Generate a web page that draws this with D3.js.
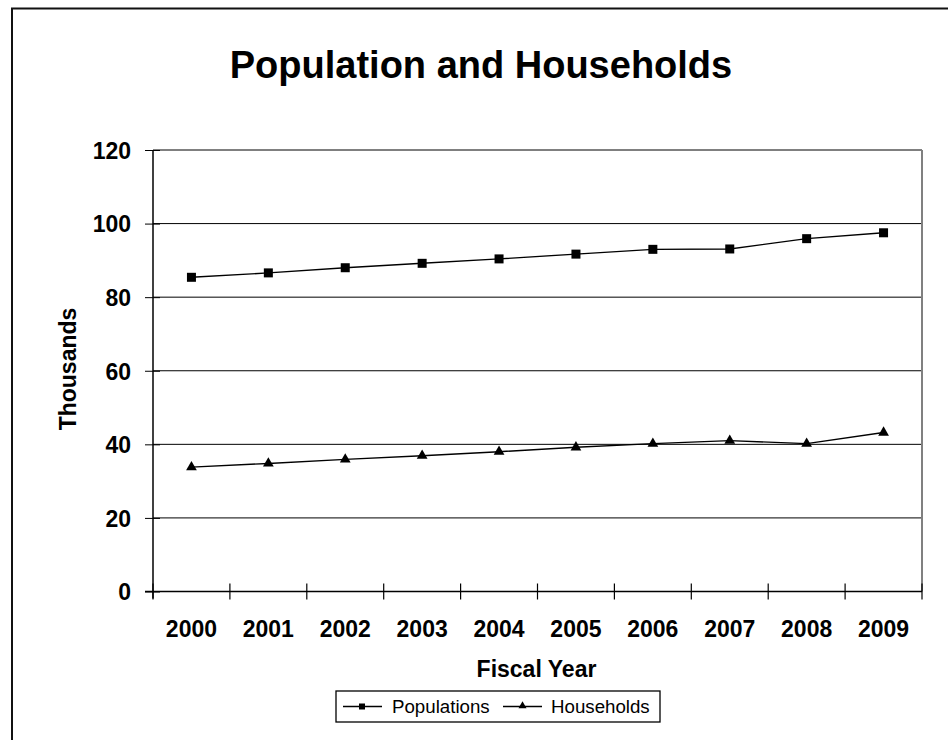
<!DOCTYPE html>
<html><head><meta charset="utf-8">
<script src="https://cdn.jsdelivr.net/npm/d3@7/dist/d3.min.js"></script>
<style>body{margin:0;background:#fff}svg{display:block;font-family:"Liberation Sans",Arial,sans-serif}</style>
</head><body>
<script>
const years = ["2000","2001","2002","2003","2004","2005","2006","2007","2008","2009"];
const populations = [85.4,86.6,88.0,89.2,90.4,91.7,93.0,93.1,95.9,97.5];
const households = [33.8,34.8,35.9,36.9,38.0,39.2,40.2,41.0,40.2,43.2];
const yTicks = [0,20,40,60,80,100,120];
const seriesNames = ["Populations","Households"];

const W=948,H=740;
const svg=d3.select("body").append("svg").attr("width",W).attr("height",H);
svg.append("rect").attr("x",12).attr("y",8.5).attr("width",1000).attr("height",900)
  .attr("fill","none").attr("stroke","#111").attr("stroke-width",2);

const L=153,R=922,T=150,B=591.5;
const x=d3.scaleBand().domain(years).range([L,R]);
const y=d3.scaleLinear().domain([0,120]).range([B,T]);

// gridlines
svg.append("g").selectAll("line").data(yTicks.filter(d=>d>0)).join("line")
  .attr("x1",L).attr("x2",R).attr("y1",d=>y(d)).attr("y2",d=>y(d))
  .attr("stroke","#000").attr("stroke-width",1);
// right plot border
svg.append("line").attr("x1",R).attr("x2",R).attr("y1",T).attr("y2",B)
  .attr("stroke","#808080").attr("stroke-width",2);

// y axis
const ya=svg.append("g").attr("transform",`translate(${L},0)`)
  .call(d3.axisLeft(y).tickValues(yTicks).tickSize(8).tickPadding(14));
ya.select(".domain").attr("stroke","#000").attr("stroke-width",1.5).attr("d",`M0,${T}V${B+7}`);
ya.selectAll(".tick line").attr("x2",-8).attr("x1",7).attr("stroke","#000");
ya.selectAll("text").attr("font-size",23).attr("font-weight","bold").attr("fill","#000")
  .attr("font-family","Liberation Sans, Arial, sans-serif").attr("dy","0.36em");

// x axis
const xa=svg.append("g").attr("transform",`translate(0,${B})`);
xa.append("line").attr("x1",L-8).attr("x2",R).attr("y1",0).attr("y2",0).attr("stroke","#000").attr("stroke-width",1.5);
const bounds=years.map(d=>x(d)).concat([R]);
xa.selectAll("line.tk").data(bounds).join("line").attr("class","tk")
  .attr("x1",d=>d).attr("x2",d=>d).attr("y1",-8).attr("y2",8).attr("stroke","#000").attr("stroke-width",1.2);
xa.selectAll("text").data(years).join("text")
  .attr("x",d=>x(d)+x.bandwidth()/2).attr("y",45.5).attr("text-anchor","middle")
  .attr("font-size",23).attr("font-weight","bold").text(d=>d);

// titles
svg.append("text").attr("x",481).attr("y",78).attr("text-anchor","middle")
  .attr("font-size",38).attr("font-weight","bold").text("Population and Households");
svg.append("text").attr("x",536.5).attr("y",677).attr("text-anchor","middle")
  .attr("font-size",23).attr("font-weight","bold").text("Fiscal Year");
svg.append("text").attr("transform","translate(76,369) rotate(-90)").attr("text-anchor","middle")
  .attr("font-size",23).attr("font-weight","bold").text("Thousands");

const cx=d=>x(d)+x.bandwidth()/2;
const line=d3.line().x((d,i)=>cx(years[i])).y(d=>y(d));
const tri=d3.symbol().type(d3.symbolTriangle);

function drawSeries(vals,kind){
  svg.append("path").datum(vals).attr("d",line).attr("fill","none").attr("stroke","#000").attr("stroke-width",1.4);
  const g=svg.append("g");
  if(kind==="sq"){
    g.selectAll("rect").data(vals).join("rect")
      .attr("x",(d,i)=>cx(years[i])-4.5).attr("y",d=>y(d)-4.5).attr("width",9).attr("height",9).attr("fill","#000");
  } else {
    g.selectAll("path").data(vals).join("path")
      .attr("d",tri.size(50)).attr("transform",(d,i)=>`translate(${cx(years[i])},${y(d)})`).attr("fill","#000");
  }
}
drawSeries(populations,"sq");
drawSeries(households,"tri");

// legend
const lg=svg.append("g");
lg.append("rect").attr("x",336).attr("y",691).attr("width",324).attr("height",31)
  .attr("fill","#fff").attr("stroke","#000").attr("stroke-width",1.3);
const items=[{name:seriesNames[0],x0:343,kind:"sq",tx:392},{name:seriesNames[1],x0:503,kind:"tri",tx:551}];
items.forEach(it=>{
  lg.append("line").attr("x1",it.x0).attr("x2",it.x0+39).attr("y1",706.5).attr("y2",706.5).attr("stroke","#000").attr("stroke-width",1.3);
  if(it.kind==="sq") lg.append("rect").attr("x",it.x0+16).attr("y",703.5).attr("width",6).attr("height",6).attr("fill","#000");
  else lg.append("path").attr("d",tri.size(28)).attr("transform",`translate(${it.x0+19.5},706)`).attr("fill","#000");
  lg.append("text").attr("x",it.tx).attr("y",712.5).attr("font-size",18.7).text(it.name);
});
</script>
</body></html>
